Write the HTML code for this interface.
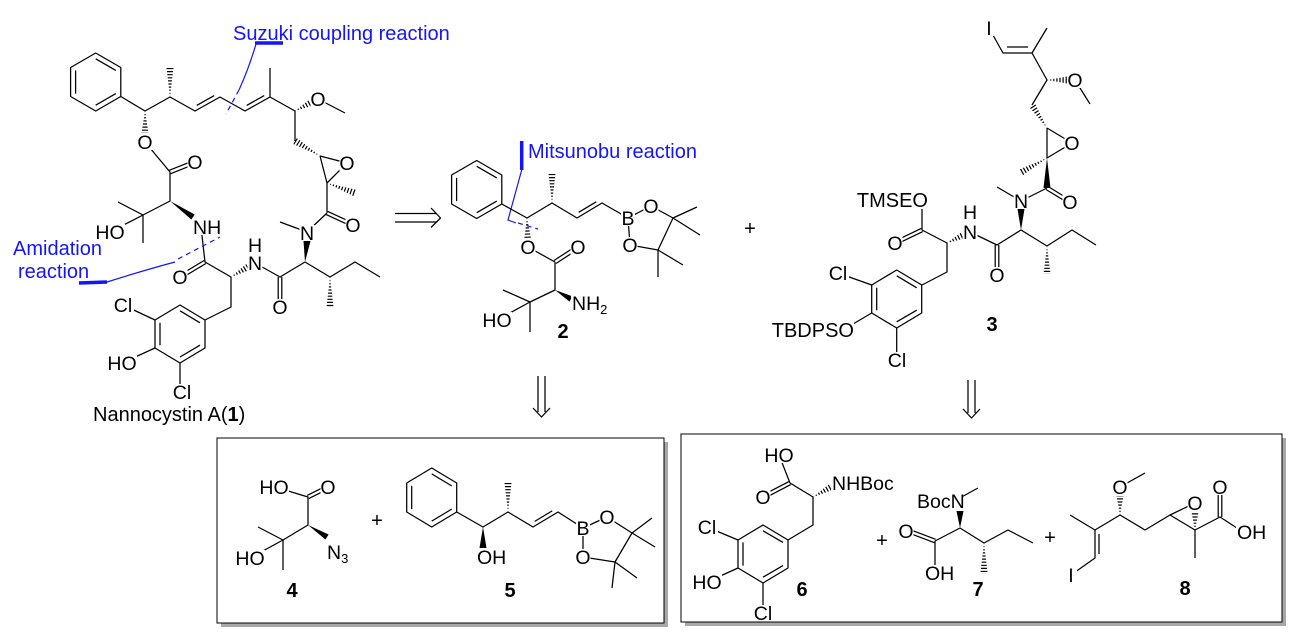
<!DOCTYPE html>
<html><head><meta charset="utf-8"><style>
html,body{margin:0;padding:0;background:#fff;}
svg{display:block;font-family:"Liberation Sans",Arial,sans-serif;}
.b{stroke:#000;stroke-width:1.25;fill:none;stroke-linejoin:round}
.hh{stroke:#000;stroke-width:10;fill:none;stroke-dasharray:1.2 1.9}
.wd{fill:#000}
.m{fill:#fff}
text{font-size:19.5px;fill:#000}
.t{text-anchor:middle}
.e{text-anchor:end}
.n{font-weight:bold;font-size:20px;text-anchor:middle}
.bl{fill:#1414ff;font-size:20px}
.bs{stroke:#1414ff;fill:none;stroke-width:1.2}
.bd{stroke:#1414ff;fill:none;stroke-width:1.2;stroke-dasharray:5 4}
.bt{stroke:#1414ff;stroke-width:3.5}
</style></head><body>
<svg width="1289" height="636" viewBox="0 0 1289 636">
<defs>
<clipPath id="c1"><polygon points="170,97 166.5,68 173.5,68"/></clipPath>
<clipPath id="c2"><polygon points="295,111 312.6,105.8 309.4,99.6"/></clipPath>
<clipPath id="c3"><polygon points="145,111 141.5,133 148.5,133"/></clipPath>
<clipPath id="c4"><polygon points="320,156 296.8,138 293.2,144"/></clipPath>
<clipPath id="c5"><polygon points="327,183 353.8,196.3 356.2,189.7"/></clipPath>
<clipPath id="c6"><polygon points="231,277 249.8,270 246.2,264"/></clipPath>
<clipPath id="c7"><polygon points="330,277 326.5,307 333.5,307"/></clipPath>
<clipPath id="c8"><polygon points="527,218 524.2,239 531.2,239"/></clipPath>
<clipPath id="c9"><polygon points="552,203 548.5,174 555.5,174"/></clipPath>
<clipPath id="c10"><polygon points="1047,80 1067,76.5 1067,83.5"/></clipPath>
<clipPath id="c11"><polygon points="1047,128 1034.9,103.1 1029.1,106.9"/></clipPath>
<clipPath id="c12"><polygon points="1047,158 1021.7,176.1 1018.3,169.9"/></clipPath>
<clipPath id="c13"><polygon points="1047,246 1043.5,274 1050.5,274"/></clipPath>
<clipPath id="c14"><polygon points="947,243 964.5,238.5 961.5,232.1"/></clipPath>
<clipPath id="c15"><polygon points="508,512 504.5,483 511.5,483"/></clipPath>
<clipPath id="c16"><polygon points="813,497 832.7,490 829.3,484"/></clipPath>
<clipPath id="c17"><polygon points="984,543 980.5,572 987.5,572"/></clipPath>
<clipPath id="c18"><polygon points="1120,515 1116.5,496 1123.5,496"/></clipPath>
<clipPath id="c19"><polygon points="1195,530 1191.5,512 1198.5,512"/></clipPath>
</defs>
<rect width="1289" height="636" fill="#fff"/>

<!-- hashed wedges (upper half) -->
<line class="hh" clip-path="url(#c1)" x1="170" y1="97" x2="170" y2="68"/>
<line class="hh" clip-path="url(#c2)" x1="295" y1="111" x2="311" y2="102.7"/>
<line class="hh" clip-path="url(#c3)" x1="145" y1="111" x2="145" y2="133"/>
<line class="hh" clip-path="url(#c4)" x1="320" y1="156" x2="295" y2="141"/>
<line class="hh" clip-path="url(#c5)" x1="327" y1="183" x2="355" y2="193"/>
<line class="hh" clip-path="url(#c6)" x1="231" y1="277" x2="248" y2="267"/>
<line class="hh" clip-path="url(#c7)" x1="330" y1="277" x2="330" y2="307"/>
<line class="hh" clip-path="url(#c8)" x1="527" y1="218" x2="527.7" y2="239"/>
<line class="hh" clip-path="url(#c9)" x1="552" y1="203" x2="552" y2="174"/>
<line class="hh" clip-path="url(#c10)" x1="1047" y1="80" x2="1067" y2="80"/>
<line class="hh" clip-path="url(#c11)" x1="1047" y1="128" x2="1032" y2="105"/>
<line class="hh" clip-path="url(#c12)" x1="1047" y1="158" x2="1020" y2="173"/>
<line class="hh" clip-path="url(#c13)" x1="1047" y1="246" x2="1047" y2="274"/>
<line class="hh" clip-path="url(#c14)" x1="947" y1="243" x2="963" y2="235.3"/>

<!-- ===== Compound 1 ===== -->
<polygon class="b" points="95.7,53 120.8,67.5 120.8,96.5 95.7,111 70.6,96.5 70.6,67.5"/>
<path class="b" d="M75.6,70.4 L75.6,93.6 M95.7,58.8 L115.8,70.4 M115.8,93.6 L95.7,105.2"/>
<path class="b" d="M120.8,96.5 L145,111 L170,97 L195,111 L220,97 L245,111 L270,97 L295,111 L295,141
M270,97 L270,68 M318,99 L345,113
M320,156 L347,163 L327,183 L320,156
M327,183 L327,213 M307,232 L280,222 M327,213 L307,232
M305,262 L280,277 L255,263
M305,262 L330,277 L355,262 L380,277
M231,277 L205,262 L201,227
M231,277 L231,307 L205,320
M145,142 L170,172 L170,201 L143,215 L118,202
M143,215 L143,243 M143,215 L110,232
M155,320 L123,305 M155,348 L122,363 M180,363 L180,392
M196.7,105.4 L214.2,95.6 M246.7,105.4 L264.2,95.6
M170.7,173.7 L195.7,163.7 M169.3,170.3 L194.3,160.3
M205.9,263.5 L180.9,278.5 M204.1,260.5 L179.1,275.5
M278.2,277 L278.2,307 M281.8,277 L281.8,307
M326.2,214.6 L352.2,226.6 M327.8,211.4 L353.8,223.4"/>
<polygon class="b" points="180,305 205,320 205,348 180,363 155,348 155,320"/>
<path class="b" d="M160,322.8 L160,345.2 M180,310.8 L200,322.8 M200,345.2 L180,357"/>
<polygon class="wd" points="170,201 194.7,214.5 191.3,219.5"/>
<polygon class="wd" points="305,262 303.5,241 310.5,241"/>

<!-- labels cmpd 1 -->
<g class="m">
<rect x="310.5" y="91" width="15" height="16"/><rect x="137.5" y="134" width="15" height="16"/>
<rect x="187.5" y="154" width="15" height="16"/><rect x="339.5" y="155" width="15" height="16"/>
<rect x="345.5" y="217" width="15" height="16"/><rect x="299.5" y="225" width="15" height="16"/>
<rect x="172.5" y="269" width="15" height="16"/><rect x="247.5" y="237" width="15" height="34"/>
<rect x="272.5" y="299" width="15" height="16"/>
<rect x="192" y="219" width="29" height="16"/><rect x="96" y="224" width="29" height="16"/>
<rect x="112" y="297" width="22" height="16"/><rect x="108" y="355" width="29" height="16"/>
<rect x="171" y="384" width="22" height="16"/>
</g>
<text class="t" x="318" y="106">O</text>
<text class="t" x="145" y="149">O</text>
<text class="t" x="195" y="169">O</text>
<text class="t" x="347" y="170">O</text>
<text class="t" x="353" y="232">O</text>
<text class="t" x="307" y="240">N</text>
<text class="t" x="180" y="284">O</text>
<text class="t" x="255" y="252">H</text>
<text class="t" x="255" y="270">N</text>
<text class="t" x="280" y="314">O</text>
<text x="193" y="234">NH</text>
<text class="t" x="110" y="239">HO</text>
<text class="t" x="123" y="312">Cl</text>
<text class="t" x="122" y="370">HO</text>
<text class="t" x="182" y="399">Cl</text>
<text x="93" y="421" style="font-size:20px">Nannocystin A(<tspan font-weight="bold">1</tspan>)</text>

<!-- blue annotations -->
<text class="bl" x="233" y="40">Suzuki coupling reaction</text>
<line class="bt" x1="255" y1="43" x2="283" y2="43"/>
<path class="bs" d="M256,44 Q249,68 239,90"/>
<path class="bd" d="M239,90 L226,114"/>
<text class="bl" x="13" y="255">Amidation</text>
<text class="bl" x="18" y="278">reaction</text>
<line class="bt" x1="79" y1="283" x2="107" y2="282"/>
<path class="bs" d="M107,282 Q145,270 175,262"/>
<path class="bd" d="M178,259 L220,237"/>
<text class="bl" x="528" y="158">Mitsunobu reaction</text>
<line class="bt" x1="521.7" y1="141" x2="521.7" y2="170"/>
<path class="bs" d="M521.7,170 L508,220 L516,223"/>
<path class="bd" d="M518,223 L538,229"/>

<!-- retro arrow -->
<path class="b" d="M395,213.5 L437,213.5 M395,222 L437,222 M431,208 L440.5,218 L431,227.5"/>

<!-- ===== Compound 2 ===== -->
<polygon class="b" points="476.7,160.5 501.8,175 501.8,204 476.7,218.5 451.6,204 451.6,175"/>
<path class="b" d="M456.6,177.9 L456.6,201.1 M476.7,166.3 L496.8,177.9 M496.8,201.1 L476.7,212.7"/>
<path class="b" d="M501.8,204 L527,218 L552,203 L577,218 L602,203 L628,218 L651,206 L673,218 L658,250 L630,245 L628,218
M673,218 L697,207 M673,218 L700,235 M658,250 L683,265 M658,250 L658,277
M528,247 L555,262 M555,262 L555,290 L530,302 L503,290 M530,302 L530,332 M530,302 L497,320
M578.7,212.3 L596.2,201.8
M556,263.5 L579,248.5 M554,260.5 L577,245.5"/>
<polygon class="wd" points="555,290 572.5,296.4 569.5,301.6"/>
<g class="m">
<rect x="520.5" y="239" width="15" height="16"/><rect x="570.5" y="239" width="15" height="16"/>
<rect x="621" y="210" width="14" height="16"/><rect x="643.5" y="198" width="15" height="16"/>
<rect x="622.5" y="237" width="15" height="16"/>
<rect x="571" y="295" width="38" height="18"/><rect x="483" y="312" width="29" height="16"/>
</g>
<text class="t" x="528" y="254">O</text>
<text class="t" x="578" y="254">O</text>
<text class="t" x="628" y="225">B</text>
<text class="t" x="651" y="213">O</text>
<text class="t" x="630" y="252">O</text>
<text x="572" y="310">NH<tspan font-size="13" dy="4">2</tspan></text>
<text class="t" x="497" y="327">HO</text>
<text class="n" x="563" y="338">2</text>

<text class="t" x="750" y="235" style="font-size:20px">+</text>

<!-- ===== Compound 3 ===== -->
<path class="b" d="M989,28 L1003,53 L1032,53 L1047,28 M1032,53 L1047,80 L1032,105
M1075,80 L1090,104
M1047,128 L1072,143 L1047,158 L1047,128
M1047,188 L1021,201 L997,187
M1021,230 L1047,246 L1072,230 L1096,245
M1021,230 L997,245 L970,232
M947,243 L922,230 L922,207
M947,243 L947,272 L922,285
M871.7,285 L838,273 M871.7,313 L853,324 M896.7,328 L896.7,360
M1007,47 L1028,47
M1046,189.5 L1069,203.5 M1048,186.5 L1071,200.5
M995.2,245 L995.2,275 M998.8,245 L998.8,275
M922.8,231.6 L895.8,244.6 M921.2,228.4 L894.2,241.4"/>
<polygon class="b" points="896.7,270 921.7,285 921.7,313 896.7,328 871.7,313 871.7,285"/>
<path class="b" d="M876.7,287.8 L876.7,310.2 M896.7,275.8 L916.7,287.8 M916.7,310.2 L896.7,321.8"/>
<polygon class="wd" points="1047,158 1043.5,188 1050.5,188"/>
<polygon class="wd" points="1021,230 1017.5,209 1024.5,209"/>
<g class="m">
<rect x="983" y="20" width="12" height="16"/><rect x="1067.5" y="72" width="15" height="16"/>
<rect x="1064.5" y="135" width="15" height="16"/><rect x="1062.5" y="194" width="15" height="16"/>
<rect x="1013.5" y="193" width="15" height="16"/><rect x="989.5" y="267" width="15" height="16"/>
<rect x="962.5" y="204" width="15" height="36"/><rect x="887.5" y="235" width="15" height="16"/>
<rect x="852" y="192" width="77" height="17"/><rect x="827" y="265" width="22" height="16"/>
<rect x="768" y="322" width="86" height="17"/><rect x="886" y="352" width="22" height="16"/>
</g>
<text class="t" x="989" y="35">I</text>
<text class="t" x="1075" y="87">O</text>
<text class="t" x="1072" y="150">O</text>
<text class="t" x="1070" y="209">O</text>
<text class="t" x="1021" y="208">N</text>
<text class="t" x="997" y="282">O</text>
<text class="t" x="970" y="219">H</text>
<text class="t" x="970" y="239">N</text>
<text class="t" x="895" y="250">O</text>
<text class="e" x="928" y="207" style="font-size:20px">TMSEO</text>
<text class="t" x="838" y="280">Cl</text>
<text class="e" x="854" y="337" style="font-size:20px">TBDPSO</text>
<text class="t" x="897" y="367">Cl</text>
<text class="n" x="992" y="331">3</text>

<!-- down arrows -->
<path class="b" d="M538,376 L538,412 M545,376 L545,412 M533,408 L541.5,417 L550,408"/>
<path class="b" d="M968,380 L968,413 M975,380 L975,413 M963,409 L971.5,418 L980,409"/>

<!-- ===== Box 1 ===== -->
<rect x="221" y="442" width="447" height="185" fill="#a8a8a8"/>
<rect x="217" y="438" width="447" height="185" fill="#fff" stroke="#000" stroke-width="1"/>

<!-- Compound 4 -->
<path class="b" d="M275,487 L308,497 L308,525 L283,540 L258,527 M283,540 L283,570 M283,540 L250,558
M308.8,498.6 L328.8,488.6 M307.2,495.4 L327.2,485.4"/>
<polygon class="wd" points="308,525 328.6,534.5 325.4,539.5"/>
<g class="m">
<rect x="260" y="479" width="29" height="16"/><rect x="320.5" y="479" width="15" height="16"/>
<rect x="326" y="544" width="24" height="19"/><rect x="236" y="550" width="29" height="16"/>
</g>
<text class="t" x="274" y="494">HO</text>
<text class="t" x="328" y="494">O</text>
<text x="327" y="559">N<tspan font-size="13" dy="4">3</tspan></text>
<text class="t" x="250" y="565">HO</text>
<text class="n" x="292" y="597">4</text>

<text class="t" x="377" y="527" style="font-size:20px">+</text>

<!-- Compound 5 -->
<polygon class="b" points="431.7,468 456.7,483 456.7,512 431.7,527 406.7,512 406.7,483"/>
<path class="b" d="M411.7,485.9 L411.7,509.1 M431.7,473.9 L451.7,485.9 M451.7,509.1 L431.7,521.1"/>
<path class="b" d="M456.7,512 L483,527 L508,512 L533,527 L558,512 L583,528 L607,517 L632,533 L615,562 L583,557 L583,528
M632,533 L652,518 M632,533 L655,547 M615,562 L637,578 M615,562 L612,588
M534.7,521.4 L552.2,510.9"/>
<line class="hh" clip-path="url(#c15)" x1="508" y1="512" x2="508" y2="483"/>
<polygon class="wd" points="483,527 479.5,548 486.5,548"/>
<g class="m">
<rect x="476" y="549" width="29" height="16"/><rect x="576" y="520" width="14" height="16"/>
<rect x="599.5" y="509" width="15" height="16"/><rect x="575.5" y="549" width="15" height="16"/>
</g>
<text x="477" y="564">OH</text>
<text class="t" x="583" y="535">B</text>
<text class="t" x="607" y="524">O</text>
<text class="t" x="583" y="564">O</text>
<text class="n" x="510" y="597">5</text>

<!-- ===== Box 2 ===== -->
<rect x="685" y="438" width="601" height="188" fill="#a8a8a8"/>
<rect x="681" y="434" width="601" height="188" fill="#fff" stroke="#000" stroke-width="1"/>

<!-- Compound 6 -->
<path class="b" d="M779,455 L790,483 M790,483 L813,497 L813,525 L788,540 M738,540 L707,527 M738,568 L707,582 M763,583 L763,613
M790.8,484.6 L763.8,498.6 M789.2,481.4 L762.2,495.4"/>
<polygon class="b" points="763,525 788,540 788,568 763,583 738,568 738,540"/>
<path class="b" d="M743,542.4 L743,565.6 M763,530.8 L783,542.4 M783,565.6 L763,577.2"/>
<line class="hh" clip-path="url(#c16)" x1="813" y1="497" x2="831" y2="487"/>
<g class="m">
<rect x="765" y="447" width="29" height="16"/><rect x="755.5" y="489" width="15" height="16"/>
<rect x="831" y="475" width="66" height="17"/><rect x="696" y="519" width="22" height="16"/>
<rect x="693" y="574" width="29" height="16"/><rect x="752" y="605" width="22" height="16"/>
</g>
<text class="t" x="779" y="462">HO</text>
<text class="t" x="763" y="504">O</text>
<text x="832" y="490">NHBoc</text>
<text class="t" x="707" y="534">Cl</text>
<text class="t" x="707" y="589">HO</text>
<text class="t" x="763" y="620">Cl</text>
<text class="n" x="802" y="596">6</text>

<text class="t" x="882" y="547" style="font-size:20px">+</text>

<!-- Compound 7 -->
<path class="b" d="M956,500 L978,488 M960,528 L935,541 L935,570 M960,528 L984,543 L1008,530 L1033,543
M934.4,542.7 L905.4,531.7 M935.6,539.3 L906.6,528.3"/>
<line class="hh" clip-path="url(#c17)" x1="984" y1="543" x2="984" y2="572"/>
<polygon class="wd" points="960,528 956.5,511 963.5,511"/>
<g class="m">
<rect x="916" y="493" width="47" height="17"/><rect x="898.5" y="523" width="15" height="16"/>
<rect x="924" y="565" width="29" height="16"/>
</g>
<text x="917" y="508">BocN</text>
<text class="t" x="906" y="538">O</text>
<text x="925" y="580">OH</text>
<text class="n" x="978" y="596">7</text>

<text class="t" x="1050" y="544" style="font-size:20px">+</text>

<!-- Compound 8 -->
<path class="b" d="M1070,515 L1095,530 L1095,558 L1071,575 M1095,530 L1120,515 L1145,530 L1170,515 L1195,530 L1220,517 L1240,530
M1170,515 L1195,503 M1195,530 L1195,558 M1120,487 L1145,473
M1099,534 L1099,554
M1218.2,517 L1218.2,489 M1221.8,517 L1221.8,489"/>
<line class="hh" clip-path="url(#c18)" x1="1120" y1="515" x2="1120" y2="496"/>
<line class="hh" clip-path="url(#c19)" x1="1195" y1="530" x2="1195" y2="512"/>
<g class="m">
<rect x="1112.5" y="479" width="15" height="16"/><rect x="1187.5" y="495" width="15" height="16"/>
<rect x="1212.5" y="479" width="15" height="16"/><rect x="1236" y="524" width="30" height="16"/>
<rect x="1065" y="567" width="12" height="16"/>
</g>
<text class="t" x="1120" y="494">O</text>
<text class="t" x="1195" y="510">O</text>
<text class="t" x="1220" y="494">O</text>
<text x="1237" y="539">OH</text>
<text class="t" x="1071" y="582">I</text>
<text class="n" x="1185" y="595">8</text>
</svg>
</body></html>
